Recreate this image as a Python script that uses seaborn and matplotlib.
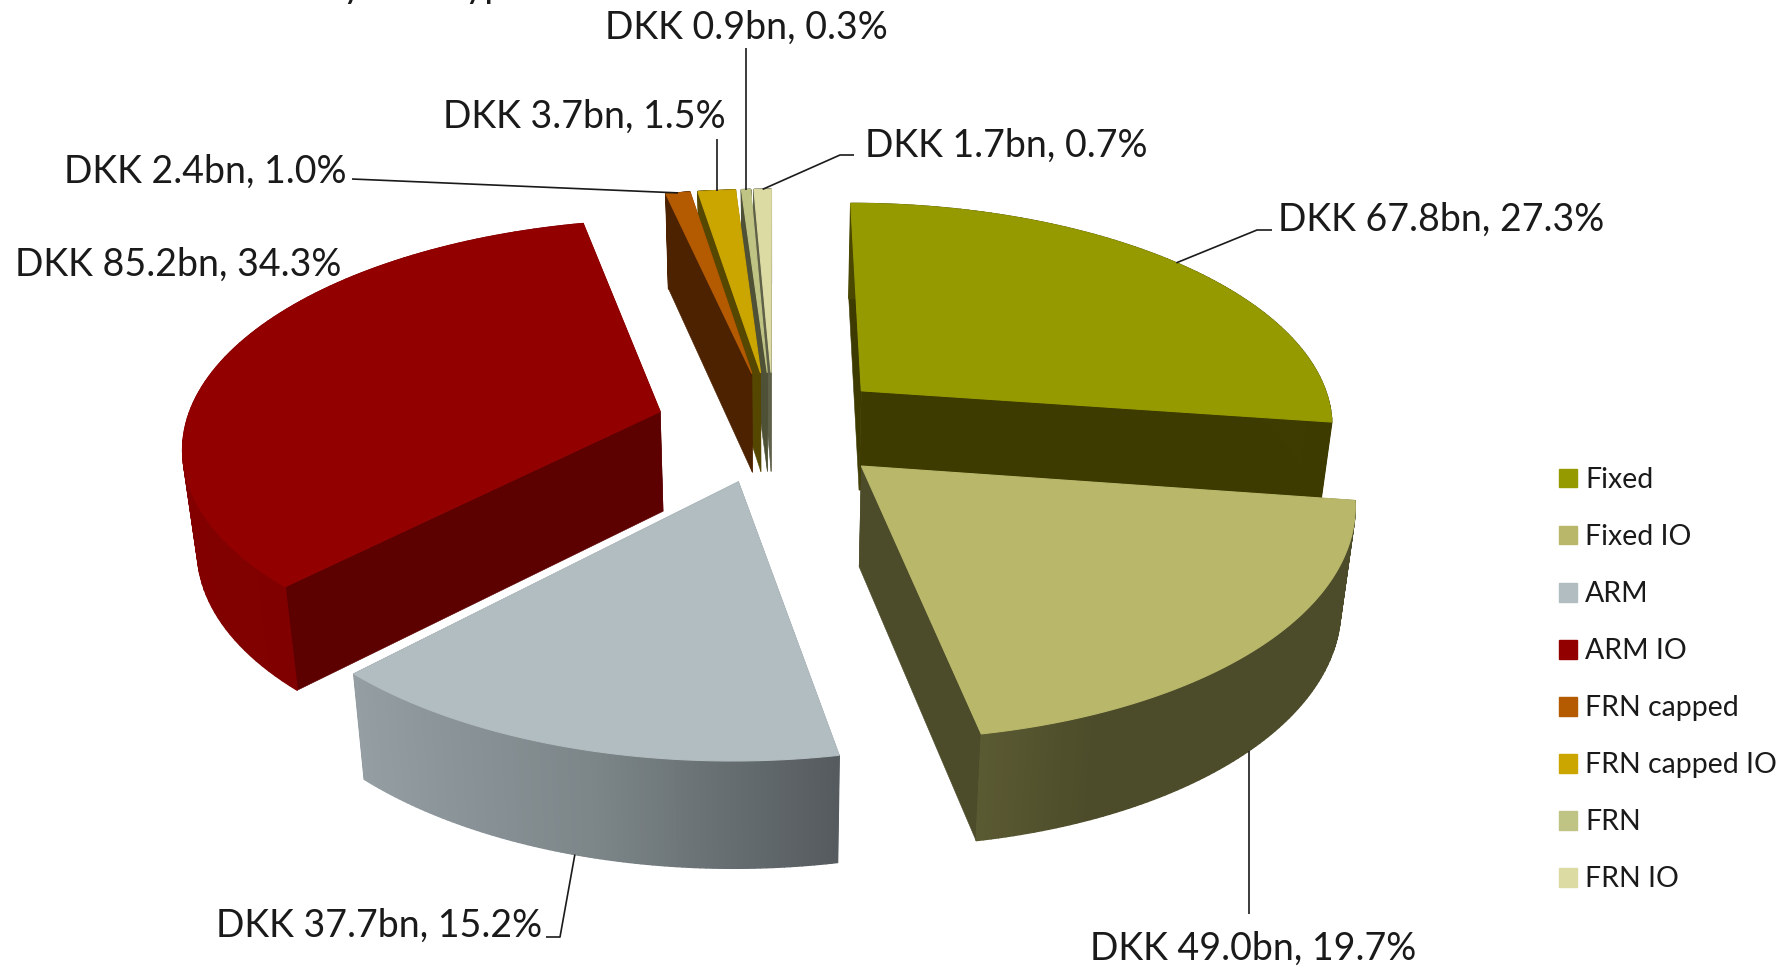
import numpy as np
import matplotlib
matplotlib.use('Agg')
import matplotlib.pyplot as plt
from matplotlib.colors import LinearSegmentedColormap
from matplotlib.patches import Patch
import seaborn as sns

# data
categories = ['Fixed', 'Fixed IO', 'ARM', 'ARM IO', 'FRN capped', 'FRN capped IO', 'FRN', 'FRN IO']
amounts = [67.8, 49.0, 37.7, 85.2, 2.4, 3.7, 0.9, 1.7]
shares = [27.3, 19.7, 15.2, 34.3, 1.0, 1.5, 0.3, 0.7]

top_colors = ['#959a00', '#b9b86a', '#b2bdc1', '#920000', '#b45a00', '#cba600', '#bfc384', '#dcdba4']
face_colors = ['#3d3b00', '#4c4b2a', '#565c5f', '#5c0000', '#4d2200', '#564700', '#4f5136', '#5f6048']
rim_colors = [
    ['#4a4800', '#3d3b00'],
    ['#5a5a32', '#4c4b2a', '#4c4b2a', '#4c4b2a'],
    ['#949ea3', '#7c8588', '#555b5e'],
    ['#820000', '#7a0000'],
    ['#4d2200', '#4d2200'],
    ['#564700', '#564700'],
    ['#4f5136', '#4f5136'],
    ['#5f6048', '#5f6048'],
]

# label text position (left edge, centre y) in figure pixels
label_pos = [(1278, 220), (1090, 949), (216, 926), (15, 265), (64, 172), (443, 117), (605, 28), (865, 146)]
# leader line: start near the label, optional elbow, then which plane of the slice it hits
# x = None means straight up from the rim point
leaders = {
    0: ([(1272, 230), (1257, 230)], 'top'),
    1: ([(None, 914)], 'bottom'),
    2: ([(546, 937), (560, 937)], 'bottom'),
    4: ([(352, 179)], 'top'),
    5: ([(None, 139)], 'top'),
    6: ([(None, 48)], 'top'),
    7: ([(854, 155), (840, 155)], 'top'),
}

# pie projection
CX, CY = 773.5, 426.5
RX, RY = 475, 223
PERSP = 0.14
DEPTH = 100
EXPLODE = 0.25
draw_order = [7, 6, 5, 4, 0, 3, 2, 1]

sns.set_theme(style='white')
plt.rcParams['font.family'] = ['Lato', 'DejaVu Sans']
palette = sns.color_palette(top_colors)

fractions = np.array(amounts) / sum(amounts)
edges = np.concatenate([[0], np.cumsum(fractions)]) * 2 * np.pi
ink = '#1a1a1a'


def project(u, v, bottom=False):
    w = 1 / (1 - PERSP * v)
    if bottom:
        return CX + RX * 0.975 * u * w, CY + DEPTH + RY * 1.022 * v * w
    return CX + RX * u * w, CY + RY * v * w


def offset(i):
    mid = (edges[i] + edges[i + 1]) / 2
    return EXPLODE * np.sin(mid), -EXPLODE * np.cos(mid)


def rim(i, t):
    ou, ov = offset(i)
    return ou + np.sin(t), ov - np.cos(t)


fig = plt.figure(figsize=(17.92, 9.67), dpi=100)
ax = fig.add_axes([0, 0, 1, 1])
ax.set_xlim(0, 1792)
ax.set_ylim(967, 0)
ax.axis('off')

for i in draw_order:
    ts = np.linspace(edges[i], edges[i + 1], 90)
    ou, ov = offset(i)
    us, vs = rim(i, ts)
    ax_x, ax_y = project(ou, ov)
    bx_x, bx_y = project(ou, ov, True)

    # the two cut faces
    for u, v in [(us[0], vs[0]), (us[-1], vs[-1])]:
        x1, y1 = project(u, v)
        x2, y2 = project(u, v, True)
        ax.fill([ax_x, x1, x2, bx_x], [ax_y, y1, y2, bx_y], color=face_colors[i], lw=0.4)

    # outer rim, split in strips for the shading
    tx, ty = project(us, vs)
    bx, by = project(us, vs, True)
    cmap = LinearSegmentedColormap.from_list('rim', rim_colors[i])
    span = max(tx.max() - tx.min(), 1)
    for k in range(len(ts) - 1):
        col = cmap((tx[k] - tx.min()) / span)
        ax.fill([tx[k], tx[k + 1], bx[k + 1], bx[k]], [ty[k], ty[k + 1], by[k + 1], by[k]], color=col, lw=1.0)

    # top of the slice
    ax.fill(np.r_[ax_x, tx], np.r_[ax_y, ty], color=palette[i], lw=0.8)

# labels
for i, (x, y) in enumerate(label_pos):
    ax.text(x, y, f'DKK {amounts[i]:.1f}bn, {shares[i]:.1f}%', fontsize=27, color=ink, va='center', ha='left')

# leader lines end on the rim at the middle of the slice
for i, (points, plane) in leaders.items():
    u, v = rim(i, (edges[i] + edges[i + 1]) / 2)
    end = project(u, v, plane == 'bottom')
    xs = [end[0] if p[0] is None else p[0] for p in points] + [end[0]]
    ys = [p[1] for p in points] + [end[1]]
    ax.plot(xs, ys, color=ink, lw=1.2, solid_capstyle='butt')

# title is cut off by the top of the image, only descenders show
ax.text(322, -3, 'by loan type', fontsize=27, color=ink, ha='left', va='baseline')

handles = [Patch(color=palette[i], label=categories[i]) for i in range(len(categories))]
ax.legend(handles=handles, loc='upper left', bbox_to_anchor=(1559 / 1792, 1 - 467 / 967), frameon=False,
          fontsize=20.5, labelcolor=ink, handlelength=0.64, handleheight=0.64, handletextpad=0.28,
          labelspacing=1.091, borderpad=0, borderaxespad=0)

plt.savefig('out.png', dpi=100)
